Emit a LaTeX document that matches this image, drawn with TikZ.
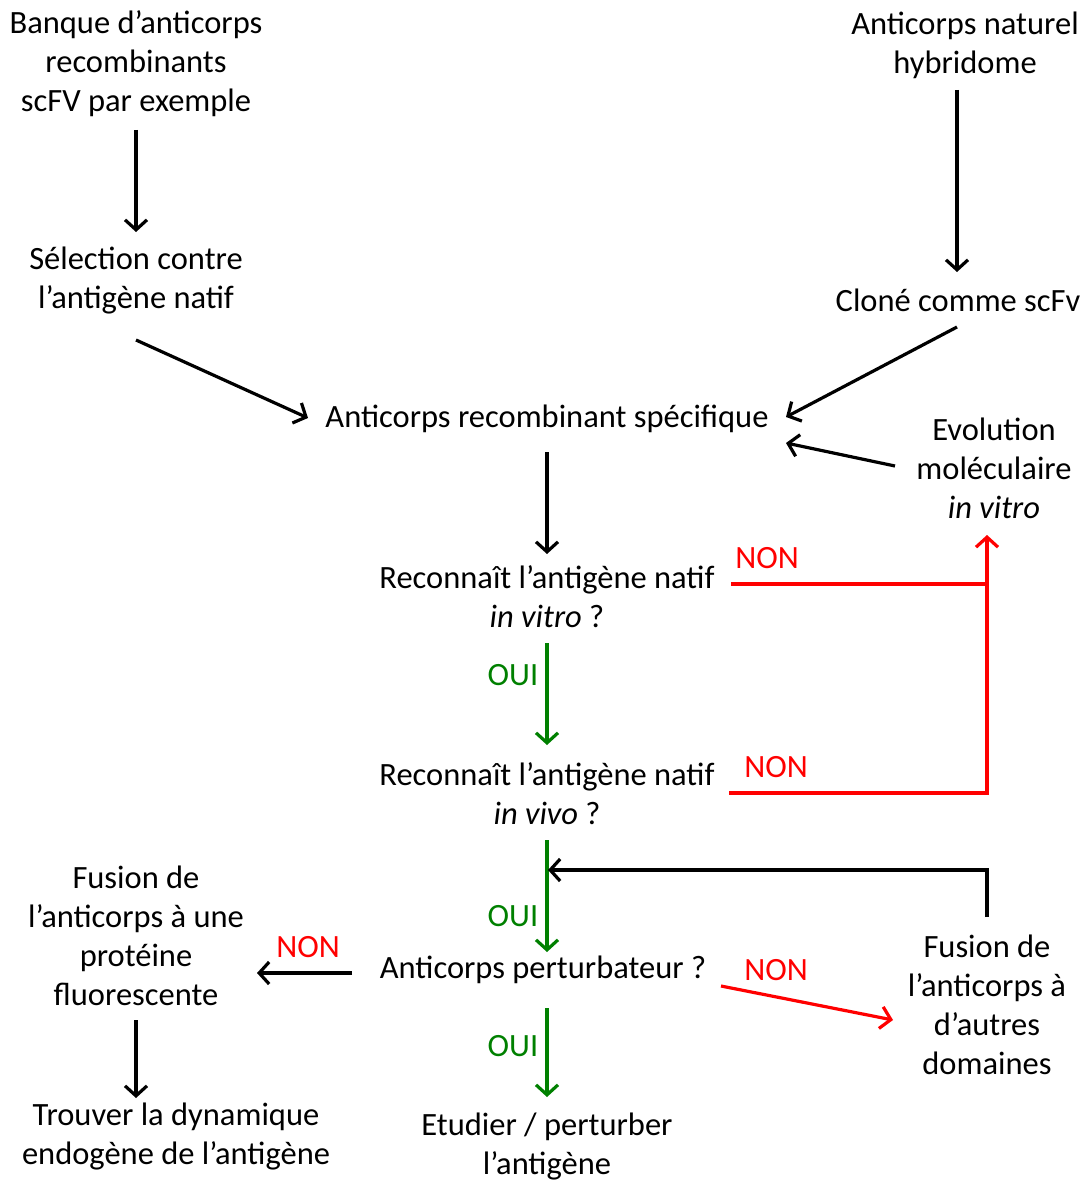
\documentclass[tikz,border=0pt]{standalone}
\usepackage{fontspec}
\setmainfont{Carlito}
\usetikzlibrary{arrows.meta}
\definecolor{nonred}{RGB}{255,0,0}
\definecolor{ouigreen}{RGB}{0,128,0}
\begin{document}
\begin{tikzpicture}[x=1pt,y=-1pt,
  lbl/.style={align=center,inner sep=0pt,font=\fontsize{32.5}{39}\selectfont},
  conn/.style={line width=3.2pt,-{Straight Barb[length=10pt,width=22pt,line width=3.2pt]}},
  plain/.style={line width=3.2pt},
  redc/.style={draw=nonred},
  greenc/.style={draw=ouigreen},
  nonlbl/.style={lbl,text=nonred},
  ouilbl/.style={lbl,text=ouigreen}]
\useasboundingbox (0,0) rectangle (1084,1180);
\node[lbl] (bank) at (136,64) {Banque d’anticorps\\recombinants\\scFV par exemple};
\node[lbl] (natural) at (965,45) {Anticorps naturel\\hybridome};
\node[lbl] (selection) at (136,281) {Sélection contre\\l’antigène natif};
\node[lbl] (clone) at (958,300) {Cloné comme scFv};
\node[lbl] (specific) at (547,419) {Anticorps recombinant spécifique};
\node[lbl] (evolution) at (994,468) {Evolution\\moléculaire\\\textit{in vitro}};
\node[lbl] (invitro) at (547,597) {Reconnaît l’antigène natif\\\textit{in vitro} ?};
\node[lbl] (invivo) at (547,794) {Reconnaît l’antigène natif\\\textit{in vivo} ?};
\node[lbl] (perturb) at (543,970) {Anticorps perturbateur ?};
\node[lbl] (fluo) at (136,936) {Fusion de\\l’anticorps à une\\protéine\\fluorescente};
\node[lbl] (trouver) at (176,1136) {Trouver la dynamique\\endogène de l’antigène};
\node[lbl] (etudier) at (547,1146) {Etudier / perturber\\l’antigène};
\node[lbl] (domaines) at (987,1005) {Fusion de\\l’anticorps à\\d’autres\\domaines};
% labels
\node[nonlbl] (non1) at (767,558) {NON};
\node[nonlbl] (non2) at (776,767) {NON};
\node[nonlbl] (non3) at (308,947) {NON};
\node[nonlbl] (non4) at (776,970) {NON};
\node[ouilbl] (oui1) at (513,675) {OUI};
\node[ouilbl] (oui2) at (513,916) {OUI};
\node[ouilbl] (oui3) at (513,1046) {OUI};
% coordinates
\coordinate (bankS) at (136,130);
\coordinate (selN) at (136,232);
\coordinate (natS) at (957,90);
\coordinate (cloN) at (957,272);
\coordinate (selS) at (136,340);
\coordinate (specW) at (308,418);
\coordinate (cloS) at (957,327);
\coordinate (specE) at (786,417);
\coordinate (evoW) at (895,466);
\coordinate (specE2) at (786,443);
\coordinate (specS) at (547,452);
\coordinate (invitroN) at (547,554);
\coordinate (invitroE) at (731,584);
\coordinate (joinA) at (987,584);
\coordinate (invivoE) at (731,793);
\coordinate (joinB) at (987,793);
\coordinate (evoS) at (987,535);
\coordinate (invitroS) at (547,643);
\coordinate (invivoN) at (547,745);
\coordinate (invivoS) at (547,840);
\coordinate (perturbN) at (547,952);
\coordinate (domN) at (987,917);
\coordinate (domTop) at (987,870);
\coordinate (mergeP) at (548,870);
\coordinate (perturbW) at (352,973);
\coordinate (fluoE) at (257,973);
\coordinate (fluoS) at (136,1020);
\coordinate (trouverN) at (136,1098);
\coordinate (perturbE) at (721,986);
\coordinate (domW) at (893,1020);
\coordinate (perturbS) at (547,1008);
\coordinate (etudierN) at (547,1097);
% connectors
\draw[conn] (bankS) -- (selN);
\draw[conn] (natS) -- (cloN);
\draw[conn] (selS) -- (specW);
\draw[conn] (cloS) -- (specE);
\draw[conn] (evoW) -- (specE2);
\draw[conn] (specS) -- (invitroN);
\draw[plain,redc] (invitroE) -- (joinA);
\draw[plain,redc,line cap=rect] (invivoE) -- (joinB);
\draw[conn,redc] (joinB) -- (evoS);
\draw[conn,greenc] (invitroS) -- (invivoN);
\draw[conn,greenc] (invivoS) -- (perturbN);
\draw[conn] (domN) -- (domTop) -- (mergeP);
\draw[conn] (perturbW) -- (fluoE);
\draw[conn] (fluoS) -- (trouverN);
\draw[conn,redc] (perturbE) -- (domW);
\draw[conn,greenc] (perturbS) -- (etudierN);
\end{tikzpicture}
\end{document}
